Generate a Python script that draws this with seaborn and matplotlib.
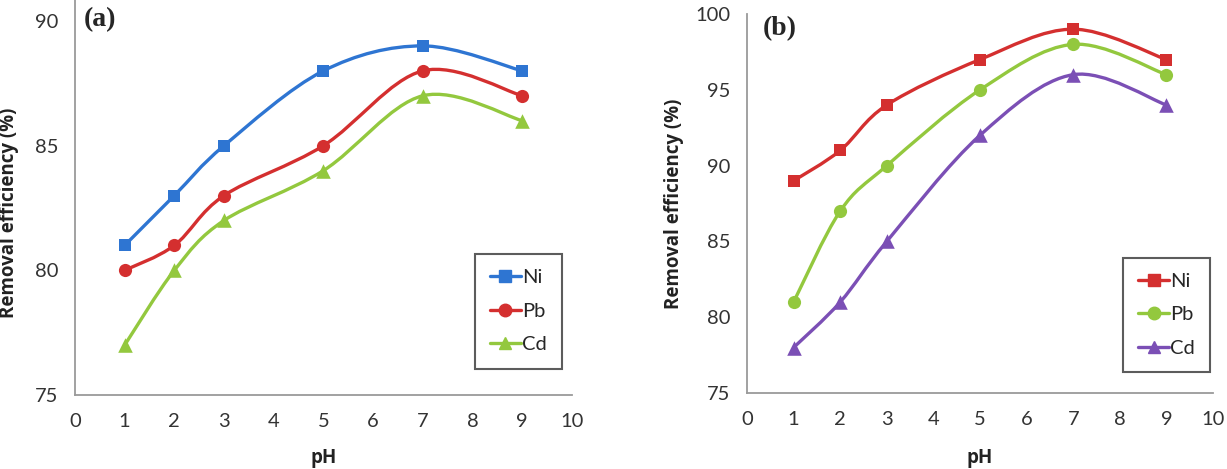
import numpy as np
import matplotlib
matplotlib.use('Agg')
import matplotlib.pyplot as plt
import seaborn as sns
from matplotlib.path import Path
from matplotlib.patches import PathPatch
from matplotlib.lines import Line2D

# pH values used in both panels
ph = [1, 2, 3, 5, 7, 9]

# panel (a) removal efficiency (%)
a_ni = [81, 83, 85, 88, 89, 88]
a_pb = [80, 81, 83, 85, 88, 87]
a_cd = [77, 80, 82, 84, 87, 86]

# panel (b) removal efficiency (%)
b_ni = [89, 91, 94, 97, 99, 97]
b_pb = [81, 87, 90, 95, 98, 96]
b_cd = [78, 81, 85, 92, 96, 94]

metals = ['Ni', 'Pb', 'Cd']
markers = ['s', 'o', '^']
marker_sizes = [85, 90, 110]
colors_a = ['#2E75D2', '#D42F2F', '#93C83E']
colors_b = ['#D42F2F', '#93C83E', '#7B4FB5']

sns.set_style('white')
plt.rcParams['font.family'] = ['Lato', 'DejaVu Sans']

AXIS_GREY = '#9a9a9a'
W, H = 1227, 469


def smooth_path(x, y):
    # Excel-style smoothed line: cubic bezier through the points (Catmull-Rom tangents)
    pts = np.column_stack([x, y]).astype(float)
    n = len(pts)
    verts = [pts[0]]
    codes = [Path.MOVETO]
    for i in range(n - 1):
        p0 = pts[max(i - 1, 0)]
        p1 = pts[i]
        p2 = pts[i + 1]
        p3 = pts[min(i + 2, n - 1)]
        verts += [p1 + (p2 - p0) / 6, p2 - (p3 - p1) / 6, p2]
        codes += [Path.CURVE4] * 3
    return Path(verts, codes)


def draw_panel(ax, series, colors, ylim, yticks, tag, tag_xy, leg_anchor):
    for vals, col, mk, ms in zip(series, colors, markers, marker_sizes):
        ax.add_patch(PathPatch(smooth_path(ph, vals), facecolor='none',
                               edgecolor=col, lw=2.4, zorder=2))
        sns.scatterplot(x=ph, y=vals, marker=mk, s=ms, color=col,
                        edgecolor=col, linewidth=0, ax=ax, zorder=3, legend=False)

    ax.set_xlim(0, 10)
    ax.set_ylim(*ylim)
    ax.set_xticks(range(0, 11))
    ax.set_yticks(yticks)
    sns.despine(ax=ax)
    for s in ['left', 'bottom']:
        ax.spines[s].set_color(AXIS_GREY)
        ax.spines[s].set_linewidth(1.3)
    ax.tick_params(axis='both', which='major', direction='out', length=5,
                   width=1.3, color=AXIS_GREY, labelsize=14.5, labelcolor='#333333')
    ax.tick_params(axis='x', pad=8)
    ax.tick_params(axis='y', pad=7)
    ax.set_xlabel('')
    ax.set_ylabel('')

    handles = [Line2D([0], [0], color=c, lw=2.4, marker=m, markersize=9)
               for c, m in zip(colors, markers)]
    leg = ax.legend(handles, metals, loc='lower right', bbox_to_anchor=leg_anchor,
                    frameon=True, fancybox=False, fontsize=14.5, handlelength=1.55,
                    handletextpad=0.05, labelspacing=0.82, borderpad=0.75,
                    borderaxespad=0)
    leg.get_frame().set_edgecolor('#333333')
    leg.get_frame().set_linewidth(1.5)

    ax.text(tag_xy[0], tag_xy[1], tag, transform=ax.transAxes, fontsize=20,
            fontweight='bold', family='Liberation Serif', ha='center', va='center')


fig = plt.figure(figsize=(W / 100, H / 100), dpi=100)
ax_a = fig.add_axes([0.0611, 0.1578, 0.4050, 0.8422])
ax_b = fig.add_axes([0.6088, 0.1620, 0.3798, 0.8081])

draw_panel(ax_a, [a_ni, a_pb, a_cd], colors_a, (75, 90.84), [75, 80, 85, 90],
           '(a)', (0.05, 0.95), (0.98, 0.067))
draw_panel(ax_b, [b_ni, b_pb, b_cd], colors_b, (75, 100), [75, 80, 85, 90, 95, 100],
           '(b)', (0.071, 0.962), (0.9936, 0.055))

# axis titles placed in figure pixels
label_kw = dict(fontsize=13.5, fontweight='bold', family='Open Sans', color='#222222',
                ha='center', va='center')
fig.text(9 / W, 1 - 213 / H, 'Removal efficiency (%)', rotation=90, **label_kw)
fig.text(674 / W, 1 - 204 / H, 'Removal efficiency (%)', rotation=90, **label_kw)
fig.text(324 / W, 1 - 458 / H, 'pH', **label_kw)
fig.text(980 / W, 1 - 458 / H, 'pH', **label_kw)

fig.savefig('out.png', dpi=100, facecolor='white')
